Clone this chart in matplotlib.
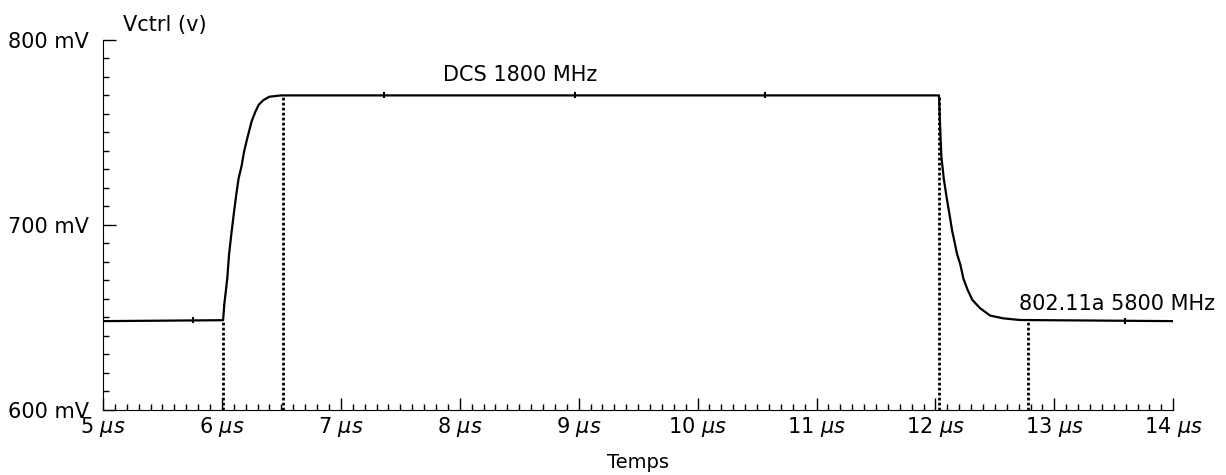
import numpy as np
import matplotlib
matplotlib.use('Agg')
import matplotlib.pyplot as plt
from matplotlib.ticker import MultipleLocator, FuncFormatter

plt.rcParams['font.family'] = ['DejaVu Sans']
plt.rcParams['mathtext.fontset'] = 'dejavusans'

# temps (µs) et tension Vctrl (mV)
temps = [5.0, 6.01, 6.02, 6.045, 6.06, 6.08, 6.10, 6.12, 6.14, 6.166, 6.186,
         6.21, 6.23, 6.25, 6.28, 6.31, 6.35, 6.40, 6.50,
         12.03, 12.04, 12.05, 12.07, 12.095, 12.12, 12.14, 12.16, 12.18,
         12.21, 12.235, 12.27, 12.31, 12.375, 12.46, 12.57, 12.71, 14.0]
vctrl = [648, 648.5, 657, 671, 684, 695.5, 706, 716, 725, 732, 739.5,
         746, 751, 756, 761, 765, 767.5, 769.3, 770,
         770, 752, 737, 725, 714.5, 705, 697, 691, 684.7,
         678.4, 671, 665, 659.5, 655, 651, 649.5, 648.6, 648]

# instants des lignes verticales pointillées
t_marques = [6.01, 6.51, 12.03, 12.78]
# petits repères sur la courbe
t_points = [5.76, 7.36, 8.97, 10.57, 13.59]

fig = plt.figure(figsize=(12.26, 4.75), dpi=100)
ax = fig.add_axes([0.084, 0.137, 0.873, 0.779])

ax.plot(temps, vctrl, color='black', linewidth=1.6)

for t in t_marques:
    v = np.interp(t, temps, vctrl)
    ax.plot([t, t], [600, v], color='black', linestyle=(0, (1, 0.8)), linewidth=2)

ax.plot(t_points, np.interp(t_points, temps, vctrl), linestyle='none',
        marker='|', markersize=5, color='black', markeredgewidth=1.5)

ax.set_xlim(5, 14)
ax.set_ylim(600, 800)

ax.xaxis.set_major_locator(MultipleLocator(1))
ax.xaxis.set_minor_locator(MultipleLocator(0.1))
ax.yaxis.set_major_locator(MultipleLocator(100))
ax.yaxis.set_minor_locator(MultipleLocator(10))
ax.xaxis.set_major_formatter(FuncFormatter(lambda x, p: f"{int(round(x))} $\\mathit{{\\mu s}}$"))
ax.yaxis.set_major_formatter(FuncFormatter(lambda y, p: f"{int(round(y))} mV"))

ax.tick_params(which='both', direction='in', labelsize=15, colors='black')
ax.tick_params(which='major', length=9, width=1)
ax.tick_params(which='minor', length=4, width=1)
ax.tick_params(axis='x', pad=4)
ax.tick_params(axis='y', pad=10)

ax.spines['top'].set_visible(False)
ax.spines['right'].set_visible(False)

ax.text(8.51, 781, 'DCS 1800 MHz', fontsize=15, ha='center', va='center')
ax.text(13.53, 657, '802.11a 5800 MHz', fontsize=15, ha='center', va='center', clip_on=False)
ax.text(5.17, 808, 'Vctrl (v)', fontsize=15, ha='left', va='center', clip_on=False)
ax.set_xlabel('Temps', fontsize=14, labelpad=10)

plt.savefig('out.png', dpi=100)
